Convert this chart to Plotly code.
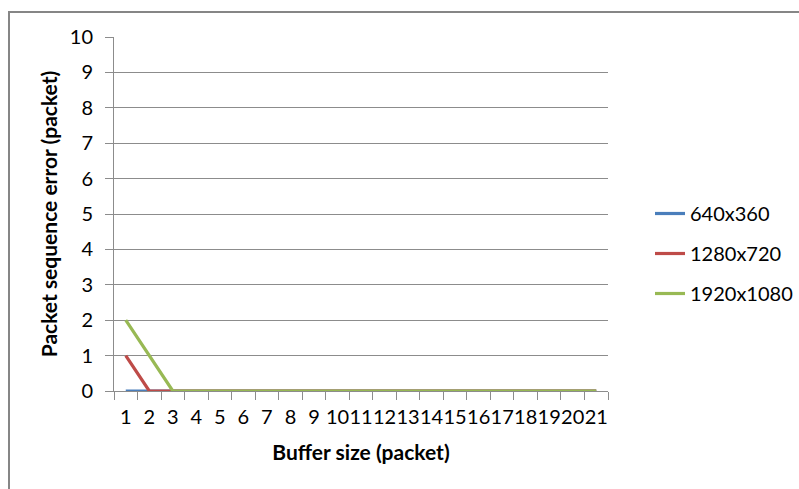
import plotly.graph_objects as go

# Buffer sizes (packets) on the category axis
buffer_sizes = [str(i) for i in range(1, 22)]

# Packet sequence errors per video resolution
err_640x360 = [0] * 21
err_1280x720 = [1] + [0] * 20
err_1920x1080 = [2, 1] + [0] * 19

series_names = ["640x360", "1280x720", "1920x1080"]
series_colors = ["#4A7EBB", "#BE4B48", "#98B954"]
series_values = [err_640x360, err_1280x720, err_1920x1080]

y_ticks = list(range(0, 11))

FONT = "Lato, Carlito, Calibri, sans-serif"
GRID = "#8c8c8c"
TICK_SIZE = 20
TITLE_SIZE = 21

fig = go.Figure()
for i, (name, color, vals) in enumerate(zip(series_names, series_colors, series_values)):
    fig.add_trace(go.Scatter(
        x=buffer_sizes, y=vals, name=name, mode="lines",
        line=dict(color=color, width=3.2),
        legendgroup=f"g{i}",
    ))

W, H = 799, 489
L, R, T, B = 114, 608, 37, 391
pw, ph = R - L, B - T

fig.update_layout(
    width=W, height=H,
    margin=dict(l=L, r=W - R, t=T, b=H - B, autoexpand=False),
    paper_bgcolor="white", plot_bgcolor="white",
    font=dict(family=FONT, size=TICK_SIZE, color="#000000"),
    showlegend=True,
    legend=dict(
        x=(650 - L) / pw, y=(B - 194) / ph, xanchor="left", yanchor="top",
        font=dict(family=FONT, size=TICK_SIZE, color="#000000"),
        traceorder="grouped", tracegroupgap=11, itemwidth=30,
        bgcolor="rgba(0,0,0,0)",
    ),
    xaxis=dict(
        type="category", range=[-0.5, 20.5], tickson="boundaries",
        tickmode="array", tickvals=buffer_sizes, ticktext=buffer_sizes,
        ticks="outside", ticklen=8, tickcolor=GRID, tickwidth=1,
        showline=True, linecolor=GRID, linewidth=1,
        showgrid=False, tickangle=0, ticklabelstandoff=8,
        tickfont=dict(family=FONT, size=TICK_SIZE),
        title=dict(text="<b>Buffer size (packet)</b>", font=dict(family=FONT, size=TITLE_SIZE), standoff=18),
        fixedrange=True,
    ),
    yaxis=dict(
        range=[0, 10], tickvals=y_ticks, ticktext=[str(v) for v in y_ticks],
        ticks="outside", ticklen=8, tickcolor=GRID, tickwidth=1,
        showline=True, linecolor=GRID, linewidth=1,
        showgrid=True, gridcolor=GRID, gridwidth=1, zeroline=False,
        ticklabelstandoff=8,
        tickfont=dict(family=FONT, size=TICK_SIZE),
        title=dict(text="<b>Packet sequence error (packet)</b>", font=dict(family=FONT, size=TITLE_SIZE), standoff=6),
        fixedrange=True,
    ),
)

# Chart frame (open towards the right and bottom edges)
fig.add_shape(
    type="rect", xref="paper", yref="paper",
    x0=(9 - L) / pw, x1=(W + 10 - L) / pw,
    y0=(B - (H + 10)) / ph, y1=(B - 12) / ph,
    line=dict(color="#868686", width=2), fillcolor="rgba(0,0,0,0)", layer="below",
)

fig.write_html("out.html")
